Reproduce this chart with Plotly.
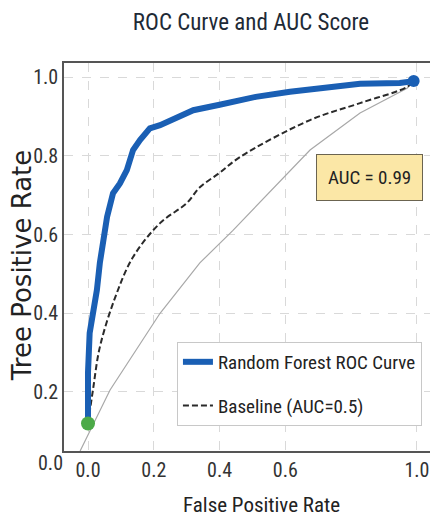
import plotly.graph_objects as go

# ROC curve (Random Forest)
roc_fpr = [0.0, 0.0, 0.005, 0.015, 0.027, 0.036, 0.046, 0.058, 0.076, 0.097, 0.118, 0.137, 0.158,
           0.188, 0.219, 0.27, 0.32, 0.40, 0.44, 0.51, 0.614, 0.726, 0.827, 0.948, 0.99]
roc_tpr = [0.12, 0.25, 0.35, 0.40, 0.459, 0.528, 0.578, 0.645, 0.705, 0.73, 0.764, 0.815, 0.84,
           0.87, 0.878, 0.896, 0.916, 0.93, 0.937, 0.95, 0.963, 0.975, 0.983, 0.985, 0.99]

# Baseline (dashed)
base_fpr = [0.0, 0.015, 0.036, 0.082, 0.137, 0.219, 0.30, 0.34, 0.40, 0.462, 0.675, 0.827, 0.97, 0.99]
base_tpr = [0.12, 0.205, 0.314, 0.439, 0.543, 0.629, 0.68, 0.72, 0.757, 0.797, 0.891, 0.934, 0.975, 0.99]

# Thin grey reference curve
ref_fpr = [-0.024, 0.067, 0.219, 0.34, 0.44, 0.675, 0.827, 0.97, 0.99]
ref_tpr = [0.05, 0.205, 0.40, 0.528, 0.61, 0.815, 0.909, 0.972, 0.99]

x_ticks = [0.0, 0.2, 0.4, 0.6, 1.0]
y_ticks = [0.2, 0.4, 0.6, 0.8, 1.0]
auc_text = "AUC = 0.99"

NARROW = "Noto Sans Condensed, Roboto Condensed, Liberation Sans Narrow, Roboto, sans-serif"
BLUE = "#1a5fb4"

fig = go.Figure()
fig.add_trace(go.Scatter(x=ref_fpr, y=ref_tpr, mode="lines",
                         line=dict(color="#a8a8a8", width=1.2), showlegend=False, hoverinfo="skip"))
fig.add_trace(go.Scatter(x=base_fpr, y=base_tpr, mode="lines", name="Baseline (AUC=0.5)",
                         line=dict(color="#2a2a2a", width=2, dash="6px,3px", shape="spline"),
                         legendrank=2, legendgroup="b"))
fig.add_trace(go.Scatter(x=roc_fpr, y=roc_tpr, mode="lines", name="Random Forest ROC Curve",
                         line=dict(color=BLUE, width=6), legendrank=1, legendgroup="a"))
fig.add_trace(go.Scatter(x=[roc_fpr[0]], y=[roc_tpr[0]], mode="markers",
                         marker=dict(color="#4caa48", size=14), showlegend=False))
fig.add_trace(go.Scatter(x=[roc_fpr[-1]], y=[roc_tpr[-1]], mode="markers",
                         marker=dict(color=BLUE, size=12), showlegend=False))

fig.update_layout(
    width=430, height=518,
    margin=dict(l=56, r=0, t=55, b=75, autoexpand=False),
    plot_bgcolor="white", paper_bgcolor="white",
    title=dict(text="ROC Curve and AUC Score", x=0.5, xref="paper", y=1 - 14 / 518,
               yref="container", yanchor="middle", xanchor="center",
               font=dict(family=NARROW, size=23, color="#1e2a36")),
    xaxis=dict(range=[-0.073, 1.064], tickvals=x_ticks, ticktext=[f"{v:.1f}" for v in x_ticks],
               showgrid=True, gridcolor="#d9d9d9", griddash="dash", gridwidth=1,
               showline=True, linecolor="#555", linewidth=1.5, mirror=True,
               zeroline=False, ticks="", tickfont=dict(family=NARROW, size=20, color="#333")),
    yaxis=dict(range=[0.05, 1.036], tickvals=y_ticks, ticktext=[f"{v:.1f}" for v in y_ticks],
               showgrid=True, gridcolor="#d9d9d9", griddash="dash", gridwidth=1,
               showline=True, linecolor="#555", linewidth=1.5, mirror=False,
               zeroline=False, ticks="", tickfont=dict(family=NARROW, size=20, color="#333")),
    legend=dict(x=0.302, y=0.281, xanchor="left", yanchor="top",
                bgcolor="white", bordercolor="#c8c8c8", borderwidth=1,
                font=dict(family=NARROW, size=19, color="#222"), tracegroupgap=16),
    showlegend=True,
)

fig.add_annotation(text=auc_text, x=0.857, y=0.744, xref="x", yref="y", showarrow=False,
                   font=dict(family=NARROW, size=19, color="#222"),
                   bgcolor="#fbe7a6", bordercolor="#6b6450", borderwidth=1, borderpad=11)
fig.add_annotation(text="0.0", x=-0.037, y=-0.031, xref="paper", yref="paper", showarrow=False,
                   xanchor="center", yanchor="middle",
                   font=dict(family=NARROW, size=20, color="#333"))
fig.add_annotation(text="False Positive Rate", x=0.529, y=-0.139, xref="paper", yref="paper",
                   showarrow=False, xanchor="center", yanchor="middle",
                   font=dict(family=NARROW, size=21, color="#222"))
fig.add_annotation(text="Tree Positive Rate", x=-0.112, y=0.479, xref="paper", yref="paper",
                   showarrow=False, textangle=-90, xanchor="center", yanchor="middle",
                   font=dict(family="DejaVu Sans", size=26, color="#222"))

fig.write_html("out.html")
